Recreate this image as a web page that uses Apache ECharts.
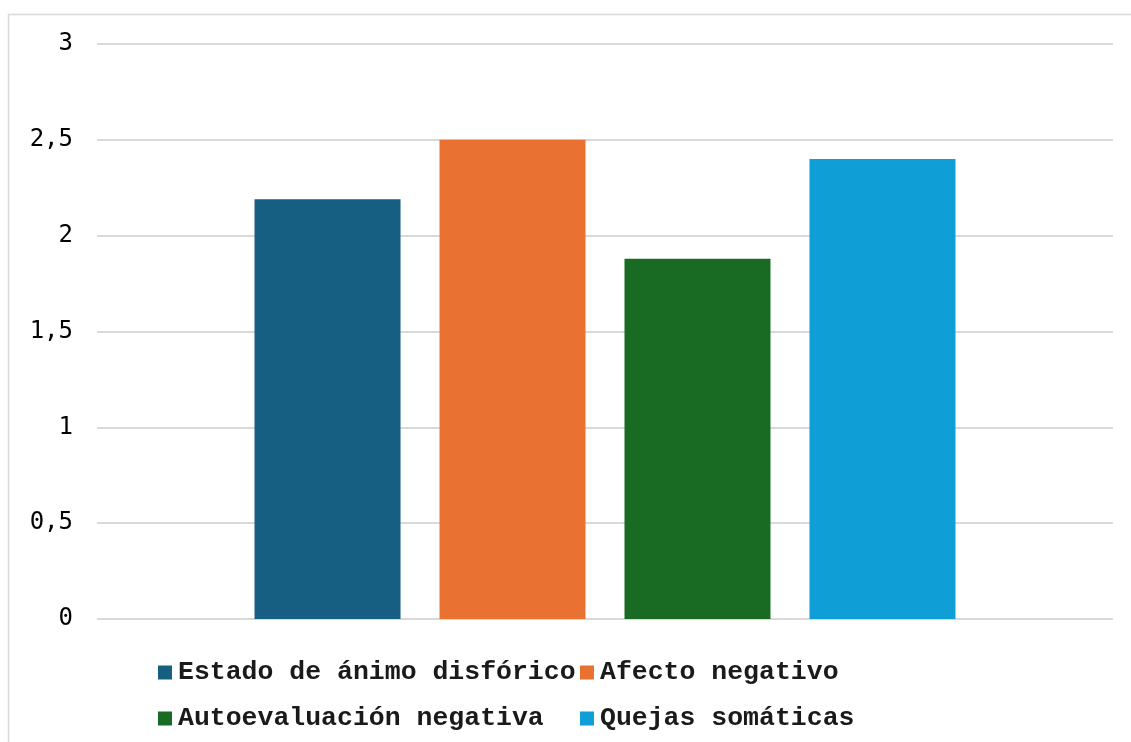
<!DOCTYPE html>
<html>
<head>
<meta charset="utf-8">
<script src="https://cdn.jsdelivr.net/npm/echarts@6/dist/echarts.min.js"></script>
<style>
  html, body { margin: 0; padding: 0; background: #ffffff; }
  #chart { width: 1131px; height: 742px; }
</style>
</head>
<body>
<div id="chart"></div>
<script>
// Dimension scores (mean) for each depression factor
const seriesNames = [
  'Estado de ánimo disfórico',
  'Afecto negativo',
  'Autoevaluación negativa',
  'Quejas somáticas'
];
const seriesValues = [2.19, 2.50, 1.88, 2.40];
const seriesColors = ['#175f82', '#e97132', '#196b24', '#0f9ed5'];
const categories = [''];
const yTicks = { min: 0, max: 3, interval: 0.5 };

const chart = echarts.init(document.getElementById('chart'), null, { renderer: 'canvas' });

const legendText = {
  fontFamily: '"Liberation Mono", "Courier New", monospace',
  fontWeight: 'bold',
  fontSize: 26.5,
  color: '#1a1a1a',
  padding: [0, 0, 0, 1]
};

const legendBase = {
  orient: 'vertical',
  top: 659,
  padding: 0,
  itemWidth: 14,
  itemHeight: 14,
  itemGap: 19,
  icon: 'rect',
  textStyle: legendText
};

const option = {
  backgroundColor: '#ffffff',
  animation: false,
  graphic: [{
    type: 'rect',
    shape: { x: 8.5, y: 14.5, width: 1140, height: 760 },
    style: { fill: 'none', stroke: '#d9d9d9', lineWidth: 1.5 },
    silent: true,
    z: -1
  }],
  grid: { left: 97, right: 18, top: 44, bottom: 123, containLabel: false },
  legend: [
    Object.assign({ left: 158, data: [seriesNames[0], seriesNames[2]] }, legendBase),
    Object.assign({ left: 580, data: [seriesNames[1], seriesNames[3]] }, legendBase)
  ],
  xAxis: {
    type: 'category',
    data: categories,
    axisLine: { show: false },
    axisTick: { show: false },
    axisLabel: { show: false }
  },
  yAxis: {
    type: 'value',
    min: yTicks.min,
    max: yTicks.max,
    interval: yTicks.interval,
    axisLine: { show: false },
    axisTick: { show: false },
    splitLine: { lineStyle: { color: '#d9d9d9', width: 2 } },
    axisLabel: {
      margin: 24,
      fontFamily: '"DejaVu Sans Mono", monospace',
      fontSize: 24,
      color: '#000000',
      formatter: v => String(v).replace('.', ',')
    }
  },
  series: seriesNames.map((name, i) => ({
    name: name,
    type: 'bar',
    data: [seriesValues[i]],
    barWidth: 146,
    barGap: '26.7%',
    itemStyle: { color: seriesColors[i] }
  }))
};

chart.setOption(option);
</script>
</body>
</html>
